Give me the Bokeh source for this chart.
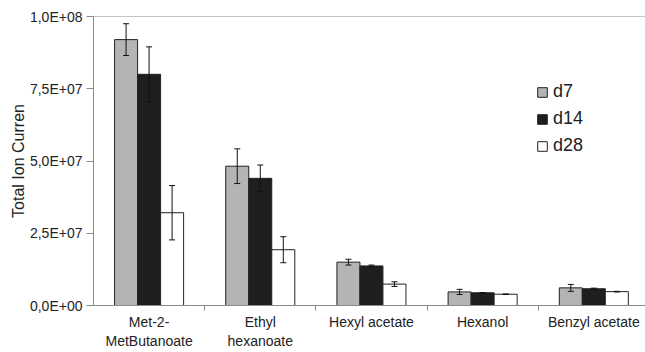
from bokeh.plotting import figure
from bokeh.models import (ColumnDataSource, FixedTicker, Range1d, Whisker, TeeHead,
                          Legend, LegendItem, Span)
from bokeh.embed import file_html
from bokeh.resources import INLINE

categories = ["Met-2-\nMetButanoate", "Ethyl\nhexanoate", "Hexyl acetate", "Hexanol", "Benzyl acetate"]
series_names = ["d7", "d14", "d28"]
d7 = [9.20e7, 4.82e7, 1.50e7, 0.47e7, 0.61e7]
d7_err = [0.55e7, 0.60e7, 0.10e7, 0.09e7, 0.12e7]
d14 = [8.00e7, 4.40e7, 1.37e7, 0.44e7, 0.58e7]
d14_err = [0.95e7, 0.46e7, 0.03e7, 0.0, 0.02e7]
d28 = [3.21e7, 1.93e7, 0.74e7, 0.39e7, 0.48e7]
d28_err = [0.94e7, 0.45e7, 0.08e7, 0.01e7, 0.01e7]
y_ticks = [0, 2.5e7, 5.0e7, 7.5e7, 1.0e8]
y_tick_labels = ["0,0E+00", "2,5E+07", "5,0E+07", "7,5E+07", "1,0E+08"]
y_title = "Total Ion Curren"

values = [d7, d14, d28]
errors = [d7_err, d14_err, d28_err]
fills = ["#b4b4b4", "#1e1e1e", "#ffffff"]

FONT = "Liberation Sans"
BAR_W = 0.207
offsets = [-BAR_W, 0.0, BAR_W]

p = figure(width=645, height=352, output_backend="svg", toolbar_location=None,
           x_range=Range1d(0, 4.965), y_range=Range1d(0, y_ticks[-1]),
           min_border_left=93, min_border_right=0, min_border_top=16, min_border_bottom=47)
p.outline_line_color = None
p.background_fill_color = "white"
p.border_fill_color = "white"
p.grid.grid_line_color = None

centers = [i + 0.5 for i in range(len(categories))]
items = []
for name, vals, errs, fc, off in zip(series_names, values, errors, fills, offsets):
    xs = [c + off for c in centers]
    src = ColumnDataSource(dict(x=xs, top=vals,
                                upper=[v + e for v, e in zip(vals, errs)],
                                lower=[v - e for v, e in zip(vals, errs)]))
    r = p.vbar(x="x", top="top", width=BAR_W, source=src, fill_color=fc,
               line_color="#222222", line_width=1)
    w = Whisker(base="x", upper="upper", lower="lower", source=src, level="overlay",
                line_color="#111111", line_width=1,
                upper_head=TeeHead(size=6, line_color="#111111", line_width=1),
                lower_head=TeeHead(size=6, line_color="#111111", line_width=1))
    p.add_layout(w)
    items.append(LegendItem(label=name, renderers=[r]))

p.add_layout(Span(location=y_ticks[-1], dimension="width", line_color="#8a8a8a", line_width=1))

legend = Legend(items=items, location=(443, 149), orientation="vertical",
                label_text_font=FONT, label_text_font_size="18px", label_text_color="#222222",
                glyph_width=12, glyph_height=12, label_height=20, label_standoff=5,
                spacing=6, padding=0, margin=0,
                border_line_color=None, background_fill_alpha=0)
p.add_layout(legend)

# x axis
p.xaxis.ticker = FixedTicker(ticks=centers, minor_ticks=list(range(1, len(categories))))
p.xaxis.major_label_overrides = {c: lab for c, lab in zip(centers, categories)}
p.xaxis.major_tick_out = 0
p.xaxis.major_tick_in = 0
p.xaxis.minor_tick_out = 5
p.xaxis.minor_tick_in = 0
p.xaxis.minor_tick_line_color = "#8a8a8a"
p.xaxis.axis_line_color = "#8a8a8a"
p.xaxis.major_label_standoff = 3
p.xaxis.major_label_text_font = FONT
p.xaxis.major_label_text_font_size = "14px"
p.xaxis.major_label_text_color = "#222222"

# y axis
p.yaxis.ticker = FixedTicker(ticks=y_ticks)
p.yaxis.major_label_overrides = {t: l for t, l in zip(y_ticks, y_tick_labels)}
p.yaxis.major_tick_out = 7
p.yaxis.major_tick_in = 0
p.yaxis.minor_tick_line_color = None
p.yaxis.major_tick_line_color = "#8a8a8a"
p.yaxis.axis_line_color = "#8a8a8a"
p.yaxis.major_label_standoff = 4
p.yaxis.major_label_text_font = FONT
p.yaxis.major_label_text_font_size = "14px"
p.yaxis.major_label_text_color = "#222222"
p.yaxis.axis_label = y_title
p.yaxis.axis_label_text_font = FONT
p.yaxis.axis_label_text_font_size = "16px"
p.yaxis.axis_label_text_font_style = "normal"
p.yaxis.axis_label_text_color = "#222222"
p.yaxis.axis_label_standoff = 0

open("out.html", "w").write(file_html(p, INLINE))
